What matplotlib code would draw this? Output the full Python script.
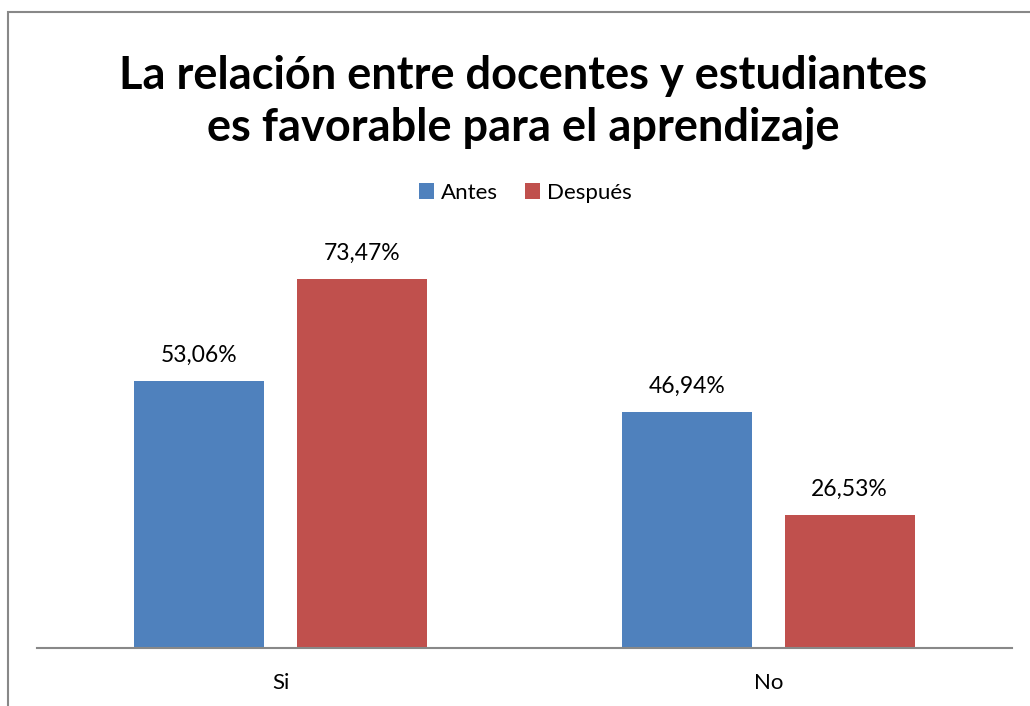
import numpy as np
import matplotlib.pyplot as plt
from matplotlib.patches import Rectangle

plt.rcParams['font.family'] = ['Lato', 'DejaVu Sans']

categories = ['Si', 'No']
antes = [53.06, 46.94]
despues = [73.47, 26.53]
series_names = ['Antes', 'Después']

blue = '#4F81BD'
red = '#C0504D'

fig = plt.figure(figsize=(10.30, 7.06), dpi=100)
# chart border (gray frame, cut off at right and bottom like the reference)
fig.patches.append(Rectangle((8 / 1030, -0.01), 1.1, 1 - 12 / 706 + 0.01,
                             transform=fig.transFigure, fill=False,
                             edgecolor='#888888', linewidth=1.5))

ax = fig.add_axes([37 / 1030, 1 - 648 / 706, 975 / 1030, 402 / 706])
x = np.arange(len(categories))
w = 0.267
off = 0.167
b1 = ax.bar(x - off, antes, w, color=blue, label=series_names[0])
b2 = ax.bar(x + off, despues, w, color=red, label=series_names[1])

for bars, vals in [(b1, antes), (b2, despues)]:
    for rect, v in zip(bars, vals):
        ax.annotate(f'{v:.2f}%'.replace('.', ','),
                    (rect.get_x() + rect.get_width() / 2, v),
                    xytext=(0, 11), textcoords='offset points',
                    ha='center', va='bottom', fontsize=16.5)

ax.set_xlim(-0.5, 1.5)
ax.set_ylim(0, 80)
ax.set_xticks(x)
ax.set_xticklabels(categories, fontsize=16)
ax.tick_params(axis='x', length=0, pad=18)
ax.set_yticks([])
for s in ['top', 'right', 'left']:
    ax.spines[s].set_visible(False)
ax.spines['bottom'].set_color('#888888')
ax.spines['bottom'].set_linewidth(1.5)

fig.text(0.508, 1 - 102 / 706, 'La relación entre docentes y estudiantes\nes favorable para el aprendizaje',
         ha='center', va='center', fontsize=32.5, fontweight='bold', linespacing=1.3)

fig.legend(handles=[b1, b2], loc='center', bbox_to_anchor=(0.51, 1 - 193 / 706),
           ncol=2, frameon=False, fontsize=16, handlelength=0.7, handleheight=0.7,
           handletextpad=0.3, columnspacing=1.2)

fig.savefig('out.png', dpi=100)
